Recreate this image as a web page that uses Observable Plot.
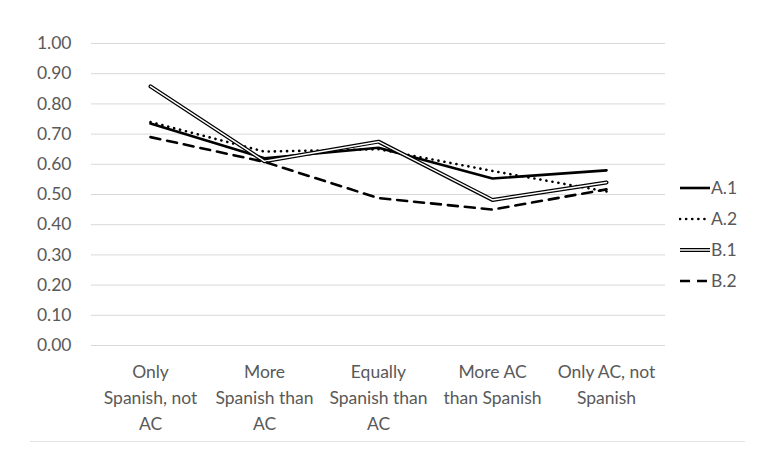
<!DOCTYPE html>
<html>
<head>
<meta charset="utf-8">
<script src="https://cdn.jsdelivr.net/npm/d3@7"></script>
<script src="https://cdn.jsdelivr.net/npm/@observablehq/plot@0.6"></script>
<style>
  html, body { margin: 0; padding: 0; background: #fff; }
  #wrap { position: relative; width: 774px; height: 472px; font-family: Lato, "Open Sans", sans-serif; }
  #legend { position: absolute; left: 679px; top: 172px; font-size: 17.5px; color: #595959; }
  .item { display: flex; align-items: center; height: 31px; }
  .item svg { width: 32px; height: 12px; }
  #border { position: absolute; left: 30px; top: 441px; width: 715px; height: 1px; background: #e3e3e3; }
</style>
</head>
<body>
<div id="wrap">
  <div id="chart"></div>
  <div id="legend"></div>
  <div id="border"></div>
</div>
<script>
const categories = ["Only Spanish, not AC", "More Spanish than AC", "Equally Spanish than AC", "More AC than Spanish", "Only AC, not Spanish"];
const tickLabels = ["Only\nSpanish, not\nAC", "More\nSpanish than\nAC", "Equally\nSpanish than\nAC", "More AC\nthan Spanish", "Only AC, not\nSpanish"];
const seriesNames = ["A.1", "A.2", "B.1", "B.2"];
const seriesA1 = [0.735, 0.62, 0.655, 0.553, 0.58];
const seriesA2 = [0.74, 0.642, 0.65, 0.578, 0.51];
const seriesB1 = [0.858, 0.61, 0.675, 0.482, 0.54];
const seriesB2 = [0.69, 0.608, 0.488, 0.45, 0.517];
const yTicks = [0, 0.1, 0.2, 0.3, 0.4, 0.5, 0.6, 0.7, 0.8, 0.9, 1.0];

const allSeries = [seriesA1, seriesA2, seriesB1, seriesB2];
const rows = seriesNames.flatMap((s, i) => categories.map((c, j) => ({series: s, category: c, value: allSeries[i][j]})));
const only = s => rows.filter(d => d.series === s);
const labelOf = new Map(categories.map((c, i) => [c, tickLabels[i]]));

const chart = Plot.plot({
  width: 774,
  height: 472,
  marginLeft: 91,
  marginRight: 109,
  marginTop: 43,
  marginBottom: 127,
  style: {fontFamily: "Lato, 'Open Sans', sans-serif", fontSize: "17.5px", color: "#595959", background: "#fff"},
  x: {type: "point", domain: categories, padding: 0.5},
  y: {domain: [0, 1]},
  marks: [
    Plot.ruleY(yTicks, {stroke: "#d9d9d9", strokeWidth: 1}),
    Plot.axisY({ticks: yTicks, tickSize: 0, tickPadding: 20, tickFormat: d3.format(".2f"), label: null, fill: "#595959"}),
    Plot.axisX({tickSize: 0, tickPadding: 14, tickFormat: d => labelOf.get(d), lineHeight: 1.49, label: null, fill: "#595959"}),
    Plot.line(only("A.1"), {x: "category", y: "value", stroke: "black", strokeWidth: 2.6}),
    Plot.line(only("A.2"), {x: "category", y: "value", stroke: "black", strokeWidth: 2.6, strokeDasharray: "0.1 6", strokeLinecap: "round"}),
    Plot.line(only("B.1"), {x: "category", y: "value", stroke: "black", strokeWidth: 4}),
    Plot.line(only("B.1"), {x: "category", y: "value", stroke: "white", strokeWidth: 1.5}),
    Plot.line(only("B.2"), {x: "category", y: "value", stroke: "black", strokeWidth: 2.6, strokeDasharray: "10 7"})
  ]
});
document.getElementById("chart").appendChild(chart);

// legend swatches
const legendStyles = {
  "A.1": [{stroke: "black", width: 2.6}],
  "A.2": [{stroke: "black", width: 2.6, dash: "0.1 6", cap: "round"}],
  "B.1": [{stroke: "black", width: 4}, {stroke: "white", width: 1.5}],
  "B.2": [{stroke: "black", width: 2.6, dash: "10 7"}]
};
const legend = d3.select("#legend");
seriesNames.forEach(name => {
  const item = legend.append("div").attr("class", "item");
  const svg = item.append("svg");
  legendStyles[name].forEach(s => {
    svg.append("line").attr("x1", 1).attr("x2", 31).attr("y1", 6).attr("y2", 6)
      .attr("stroke", s.stroke).attr("stroke-width", s.width)
      .attr("stroke-dasharray", s.dash || null).attr("stroke-linecap", s.cap || "butt");
  });
  item.append("span").text(name);
});
</script>
</body>
</html>
